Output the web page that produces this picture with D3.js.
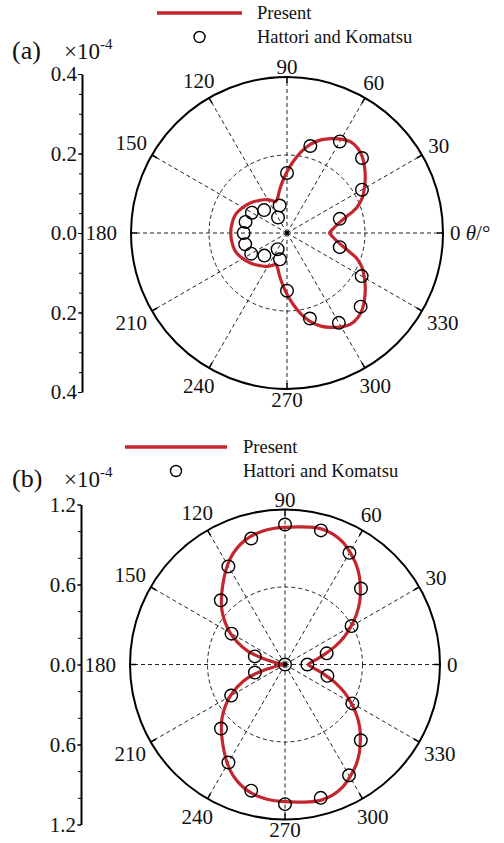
<!DOCTYPE html>
<html>
<head>
<meta charset="utf-8">
<script src="https://cdn.jsdelivr.net/npm/d3@7"></script>
<style>
  body { margin: 0; background: #fff; }
  text { font-family: "Liberation Serif", "Times New Roman", serif; fill: #111; }
</style>
</head>
<body>
<div id="chart"></div>
<script>
// angles in degrees, counter-clockwise from the right
var curveAngles = d3.range(0, 360, 5);

// (a) Present, radius x 1e-4
var presentA = [
  0.109, 0.118, 0.132, 0.156, 0.190, 0.213, 0.229, 0.245, 0.260, 0.274, 0.283, 0.285,
  0.278, 0.267, 0.254, 0.236, 0.212, 0.184, 0.157, 0.132, 0.111, 0.093, 0.086, 0.092,
  0.099, 0.104, 0.109, 0.115, 0.121, 0.126, 0.131, 0.136, 0.140, 0.142, 0.143, 0.144,
  0.144, 0.144, 0.143, 0.142, 0.140, 0.136, 0.131, 0.126, 0.121, 0.115, 0.109, 0.104,
  0.099, 0.092, 0.086, 0.093, 0.111, 0.132, 0.157, 0.184, 0.212, 0.236, 0.254, 0.267,
  0.278, 0.285, 0.283, 0.274, 0.260, 0.245, 0.229, 0.213, 0.190, 0.156, 0.132, 0.118
];
// (a) Hattori and Komatsu
var hattoriAnglesA = [15, 30, 45, 60, 75, 90, 105, 120, 135, 150, 165, 180,
  195, 210, 225, 240, 255, 270, 285, 300, 315, 330, 345];
var hattoriA = [0.140, 0.222, 0.272, 0.271, 0.231, 0.154, 0.073, 0.046, 0.083, 0.104, 0.110, 0.111,
  0.111, 0.106, 0.082, 0.048, 0.070, 0.148, 0.227, 0.266, 0.267, 0.221, 0.140];

// (b) Present
var presentB = [
  0.180, 0.205, 0.255, 0.325, 0.415, 0.505, 0.590, 0.675, 0.755, 0.825, 0.895, 0.955,
  1.005, 1.050, 1.077, 1.087, 1.080, 1.070, 1.062, 1.057, 1.046, 1.027, 0.995, 0.950,
  0.890, 0.822, 0.757, 0.697, 0.635, 0.565, 0.490, 0.405, 0.310, 0.160, 0.045, 0.012,
  0.000, 0.012, 0.045, 0.160, 0.310, 0.405, 0.490, 0.565, 0.635, 0.697, 0.757, 0.822,
  0.890, 0.950, 0.995, 1.027, 1.046, 1.057, 1.062, 1.070, 1.080, 1.087, 1.077, 1.050,
  1.005, 0.955, 0.895, 0.825, 0.755, 0.675, 0.590, 0.505, 0.415, 0.325, 0.255, 0.205
];
// (b) Hattori and Komatsu
var hattoriAnglesB = [0, 15, 30, 45, 60, 75, 90, 105, 120, 135, 150, 165, 180,
  195, 210, 225, 240, 255, 270, 285, 300, 315, 330, 345];
var hattoriB = [0.173, 0.334, 0.595, 0.832, 0.998, 1.075, 1.084, 1.010, 0.877, 0.703, 0.478, 0.242, 0.000,
  0.241, 0.481, 0.701, 0.876, 1.011, 1.081, 1.069, 0.991, 0.830, 0.602, 0.340];

var spokeAngles = [0, 30, 60, 90, 120, 150, 180, 210, 240, 270, 300, 330];
var ticksA = { major: [-0.4, -0.2, 0, 0.2, 0.4], max: 0.4, minorStep: 0.05 };
var ticksB = { major: [-1.2, -0.6, 0, 0.6, 1.2], max: 1.2, minorStep: 0.2 };

var red = "#c4262e";
var serif = "'Liberation Serif', 'Times New Roman', serif";
var rad = function(deg) { return deg * Math.PI / 180; };

var svg = d3.select("#chart").append("svg")
    .attr("width", 504)
    .attr("height", 843);

svg.append("rect").attr("width", 504).attr("height", 843).attr("fill", "#fff");

function drawPanel(o) {
    var g = svg.append("g");
    var r = d3.scaleLinear().domain([0, o.ticks.max]).range([0, o.R]);
    var cx = o.cx, cy = o.cy;

    // dashed grid
    g.selectAll(".spoke")
        .data(spokeAngles)
        .enter().append("line")
        .attr("x1", cx).attr("y1", cy)
        .attr("x2", function(d) { return cx + o.R * Math.cos(rad(d)); })
        .attr("y2", function(d) { return cy - o.R * Math.sin(rad(d)); })
        .attr("stroke", "#222").attr("stroke-width", 1)
        .attr("stroke-dasharray", "4,3");

    g.append("circle")
        .attr("cx", cx).attr("cy", cy).attr("r", r(o.ticks.max / 2))
        .attr("fill", "none").attr("stroke", "#222").attr("stroke-width", 1)
        .attr("stroke-dasharray", "4,3");

    // outer circle and ticks
    g.append("circle")
        .attr("cx", cx).attr("cy", cy).attr("r", o.R)
        .attr("fill", "none").attr("stroke", "#000").attr("stroke-width", 2);

    g.selectAll(".otick")
        .data(spokeAngles)
        .enter().append("line")
        .attr("x1", function(d) { return cx + o.R * Math.cos(rad(d)); })
        .attr("y1", function(d) { return cy - o.R * Math.sin(rad(d)); })
        .attr("x2", function(d) { return cx + (o.R - 6) * Math.cos(rad(d)); })
        .attr("y2", function(d) { return cy - (o.R - 6) * Math.sin(rad(d)); })
        .attr("stroke", "#000").attr("stroke-width", 1.5);

    // angle labels
    var fs = 21;
    g.selectAll(".alabel")
        .data(spokeAngles)
        .enter().append("text")
        .each(function(d) {
            var t = d3.select(this);
            var c = Math.cos(rad(d)), s = Math.sin(rad(d));
            var w = String(d).length * fs * 0.5, h = fs * 0.6;
            var ext = (w / 2) * Math.abs(c) + (h / 2) * Math.abs(s);
            var pad = d === 180 ? 14 : (Math.abs(s) > 0.99 ? 4 : 7);
            var rr = o.R + pad + ext;
            if (d === 0) {
                t.attr("x", cx + o.R + 7).attr("y", cy).attr("dy", "0.35em")
                    .attr("text-anchor", "start").attr("font-size", fs).text("0");
                if (o.thetaLabel) {
                    t.append("tspan").text(" ");
                    t.append("tspan").attr("font-style", "italic").text("θ");
                    t.append("tspan").text("/°");
                }
                return;
            }
            t.attr("x", cx + rr * c).attr("y", cy - rr * s).attr("dy", "0.35em")
                .attr("text-anchor", "middle").attr("font-size", fs).text(d);
        });

    // Present curve
    var line = d3.lineRadial()
        .angle(function(d) { return Math.PI / 2 - rad(d[0]); })
        .radius(function(d) { return r(d[1]); })
        .curve(d3.curveCatmullRomClosed.alpha(0.5));

    g.append("path")
        .datum(curveAngles.map(function(a, i) { return [a, o.present[i]]; }))
        .attr("transform", "translate(" + cx + "," + cy + ")")
        .attr("d", line)
        .attr("fill", "none").attr("stroke", red).attr("stroke-width", 3.2);

    // Hattori and Komatsu
    g.selectAll(".hk")
        .data(o.hattoriAngles.map(function(a, i) { return [a, o.hattori[i]]; }))
        .enter().append("circle")
        .attr("cx", function(d) { return cx + r(d[1]) * Math.cos(rad(d[0])); })
        .attr("cy", function(d) { return cy - r(d[1]) * Math.sin(rad(d[0])); })
        .attr("r", 6.3)
        .attr("fill", "none").attr("stroke", "#000").attr("stroke-width", 1.4);

    g.append("circle")
        .attr("cx", cx).attr("cy", cy).attr("r", 2.2).attr("fill", "#000");

    // left radial axis
    var y = d3.scaleLinear().domain([-o.ticks.max, o.ticks.max]).range([cy + o.axisR, cy - o.axisR]);
    var minors = d3.range(-o.ticks.max, o.ticks.max + 1e-9, o.ticks.minorStep);
    var fmt = d3.format(".1f");

    var ax = g.append("g")
        .attr("transform", "translate(" + o.axisX + ",0)")
        .call(d3.axisLeft(y).tickValues(minors).tickFormat("").tickSize(3).tickSizeOuter(0));
    ax.select(".domain").attr("stroke-width", 2);

    var ax2 = g.append("g")
        .attr("transform", "translate(" + o.axisX + ",0)")
        .attr("font-family", serif)
        .call(d3.axisLeft(y).tickValues(o.ticks.major)
            .tickFormat(function(d) { return fmt(Math.abs(d)); })
            .tickSize(4).tickSizeOuter(0).tickPadding(1));
    ax2.attr("font-family", serif).attr("font-size", fs);
    ax2.select(".domain").remove();
    ax2.selectAll("text").attr("fill", "#111");

    // panel tag and multiplier
    svg.append("text").attr("x", 12).attr("y", o.tagY).attr("font-size", 26).text(o.tag);
    var m = svg.append("text").attr("x", 64).attr("y", o.tagY).attr("font-size", 23);
    m.append("tspan").text("×10");
    m.append("tspan").attr("dy", -10).attr("font-size", 15).text("-4");

    // legend
    svg.append("line")
        .attr("x1", o.legX1).attr("x2", o.legX2)
        .attr("y1", o.legY).attr("y2", o.legY)
        .attr("stroke", red).attr("stroke-width", 3.5);
    svg.append("text").attr("x", o.legTextX).attr("y", o.legY + 6).attr("font-size", 18.5).text("Present");
    svg.append("circle")
        .attr("cx", (o.legX1 + o.legX2) / 2).attr("cy", o.legY + 24).attr("r", 5.5)
        .attr("fill", "none").attr("stroke", "#000").attr("stroke-width", 1.4);
    svg.append("text").attr("x", o.legTextX).attr("y", o.legY + 30).attr("font-size", 18.5).text("Hattori and Komatsu");
}

drawPanel({
    cx: 287, cy: 233, R: 156, axisX: 82, axisR: 159,
    ticks: ticksA, present: presentA, hattori: hattoriA, hattoriAngles: hattoriAnglesA,
    thetaLabel: true, tag: "(a)", tagY: 59,
    legX1: 157, legX2: 242, legY: 13, legTextX: 257
});

drawPanel({
    cx: 285, cy: 664.5, R: 155, axisX: 81, axisR: 160,
    ticks: ticksB, present: presentB, hattori: hattoriB, hattoriAngles: hattoriAnglesB,
    thetaLabel: false, tag: "(b)", tagY: 487,
    legX1: 125, legX2: 227, legY: 447, legTextX: 243
});
</script>
</body>
</html>
